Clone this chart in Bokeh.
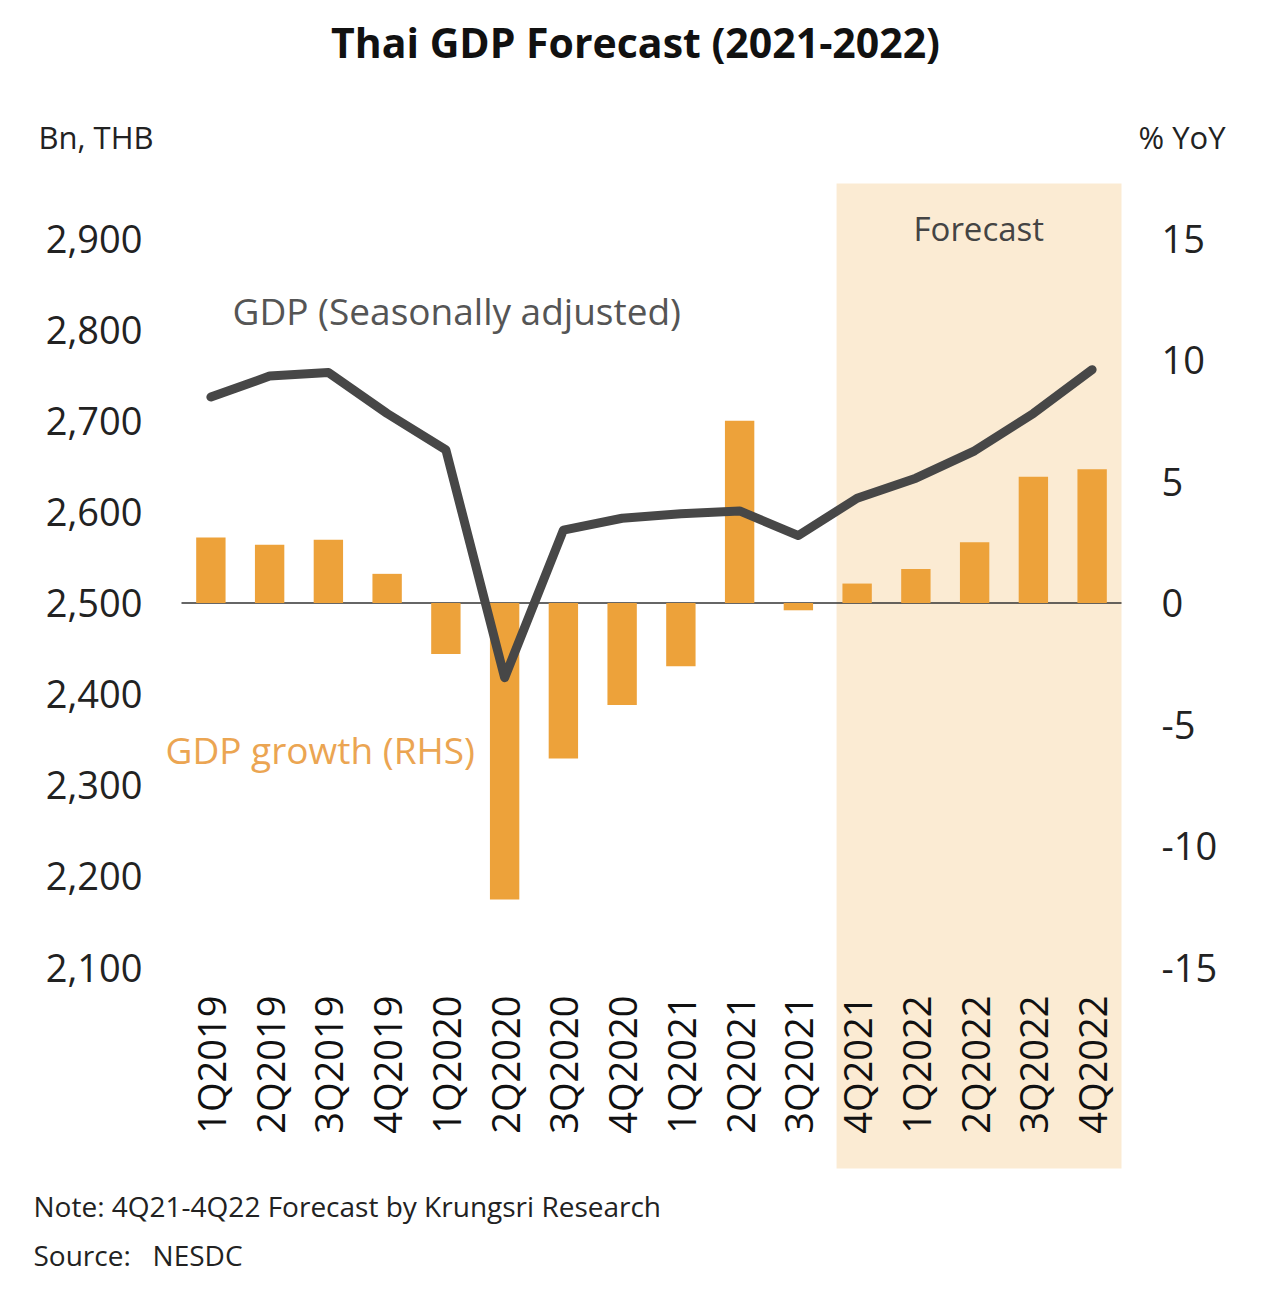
import math
from bokeh.plotting import figure
from bokeh.models import (Range1d, LinearAxis, FixedTicker, BoxAnnotation,
                          Label, NumeralTickFormatter, ColumnDataSource)
from bokeh.embed import file_html
from bokeh.resources import INLINE
from bokeh.core.properties import value

# ---------------- data ----------------
categories = ["1Q2019", "2Q2019", "3Q2019", "4Q2019",
              "1Q2020", "2Q2020", "3Q2020", "4Q2020",
              "1Q2021", "2Q2021", "3Q2021", "4Q2021",
              "1Q2022", "2Q2022", "3Q2022", "4Q2022"]
gdp_sa = [2726, 2749, 2753, 2708, 2668, 2418, 2580, 2593,
          2598, 2601, 2574, 2615, 2637, 2667, 2708, 2756]
gdp_growth = [2.7, 2.4, 2.6, 1.2, -2.1, -12.2, -6.4, -4.2,
              -2.6, 7.5, -0.3, 0.8, 1.4, 2.5, 5.2, 5.5]
left_ticks = [2100, 2200, 2300, 2400, 2500, 2600, 2700, 2800, 2900]
right_ticks = [-15, -10, -5, 0, 5, 10, 15]
forecast_start = "4Q2021"

# ---------------- layout helpers (page pixels) ----------------
W, H = 1254, 1294
PAGE_X, PAGE_Y = 0, 0
F_LEFT, F_RIGHT, F_TOP, F_BOTTOM = 181, 1121, 183, 1168  # plot area in page px
n = len(categories)
x0, x1 = -0.5, n - 0.5
ppx = (F_RIGHT - F_LEFT) / (x1 - x0)
y_top_tick_px, y_bot_tick_px = 238, 967
ppu_l = (y_bot_tick_px - y_top_tick_px) / (left_ticks[-1] - left_ticks[0])
ppu_r = (y_bot_tick_px - y_top_tick_px) / (right_ticks[-1] - right_ticks[0])


def X(px):
    return x0 + (px - F_LEFT) / ppx


def Y(py):
    return left_ticks[-1] - (py - y_top_tick_px) / ppu_l


def YR(py):
    return right_ticks[-1] - (py - y_top_tick_px) / ppu_r


FONT = "Open Sans"

p = figure(width=W, height=H,
           x_range=Range1d(X(PAGE_X), X(PAGE_X + W)),
           y_range=Range1d(Y(PAGE_Y + H), Y(PAGE_Y)),
           output_backend="svg", toolbar_location=None, x_axis_location=None,
           min_border=0, min_border_left=0, min_border_right=0,
           min_border_top=0, min_border_bottom=0)
p.extra_y_ranges = {"rhs": Range1d(YR(PAGE_Y + H), YR(PAGE_Y))}
p.outline_line_color = None
p.xgrid.visible = False
p.ygrid.visible = False
p.background_fill_color = "white"
p.border_fill_color = "white"

# axes (drawn at the plot-area edges)
la = p.yaxis[0]
la.ticker = FixedTicker(ticks=left_ticks)
la.formatter = NumeralTickFormatter(format="0,0")
la.fixed_location = x0

ra = LinearAxis(y_range_name="rhs", ticker=FixedTicker(ticks=right_ticks),
                formatter=NumeralTickFormatter(format="0"))
ra.fixed_location = x1
p.add_layout(ra, "right")
for ax in (la, ra):
    ax.axis_line_color = None
    ax.major_tick_line_color = None
    ax.minor_tick_line_color = None
    ax.major_tick_out = 0
    ax.major_tick_in = 0
    ax.major_label_text_font = FONT
    ax.major_label_text_font_size = "38px"
    ax.major_label_text_color = "#222222"
la.major_label_standoff = 39
ra.major_label_standoff = 40

# forecast band
fi = categories.index(forecast_start)
band = BoxAnnotation(left=fi - 0.35, right=x1, top=Y(F_TOP), bottom=Y(F_BOTTOM),
                     fill_color="#FBEBD3", fill_alpha=1.0,
                     line_color=None, level="underlay")
p.add_layout(band)

idx = list(range(n))
src = ColumnDataSource(dict(x=idx, cat=categories, sa=gdp_sa, g=gdp_growth,
                            ybase=[left_ticks[0]] * n))

# zero line of the RHS axis across the plot area
p.segment(x0=[x0], x1=[x1], y0=[0], y1=[0], y_range_name="rhs",
          line_color="#333333", line_width=1.5)

p.vbar(x="x", top="g", bottom=0, width=0.5, source=src, y_range_name="rhs",
       fill_color="#EDA23A", line_color=None)

p.line(x="x", y="sa", source=src, line_width=9, line_color="#474747",
       line_join="round", line_cap="round")

# category labels (rotated)
p.text(x="x", y="ybase", text="cat", source=src, angle=math.pi / 2,
       text_align="right", text_baseline="middle", y_offset=28,
       text_font=value(FONT), text_font_size="38px", text_color="#111111")


def lab(text, px, py, size, color, align="left", style="normal"):
    p.add_layout(Label(x=X(px), y=Y(py), text=text, text_font=FONT,
                       text_font_size=size, text_color=color, text_align=align,
                       text_baseline="middle", text_font_style=style))


lab("Thai GDP Forecast (2021-2022)", 635, 41, "41px", "#111111", align="center", style="bold")
lab("Bn, THB", 38, 136, "31px", "#222222")
lab("% YoY", 1138, 136, "31px", "#222222")
lab("GDP (Seasonally adjusted)", 232, 310, "37px", "#555555")
lab("GDP growth (RHS)", 165, 749, "37px", "#EBA552")
lab("Forecast", 913, 228, "33px", "#444444")
lab("Note: 4Q21-4Q22 Forecast by Krungsri Research", 33, 1205, "28px", "#222222")
lab("Source:\u00a0\u00a0 NESDC", 33, 1254, "28px", "#222222")

open("out.html", "w").write(file_html(p, INLINE))
